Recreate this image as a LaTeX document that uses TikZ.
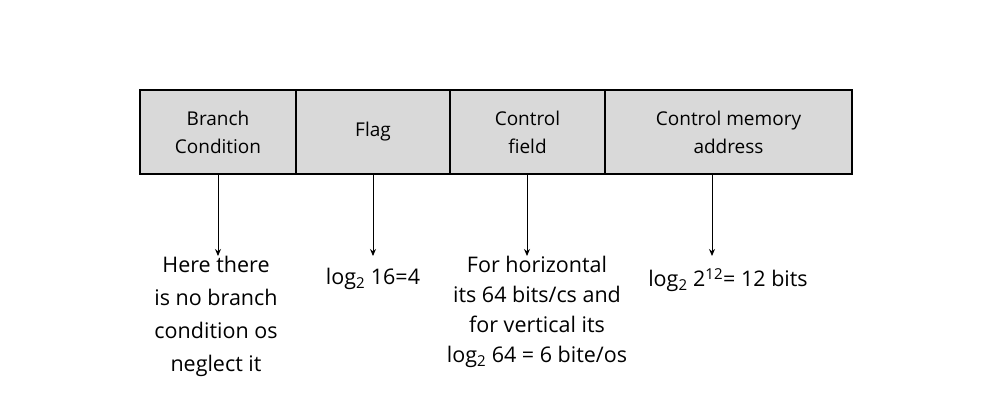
\documentclass[tikz,border=0pt]{standalone}
\usepackage{fontspec}
\setmainfont{Open Sans}
\usetikzlibrary{arrows.meta}
\begin{document}
\begin{tikzpicture}[x=1pt,y=-1pt,
  cell/.style={draw=black,fill=gray!30,line width=1.2pt,minimum height=84pt,align=center,font=\fontsize{19}{28}\selectfont,inner sep=0pt},
  desc/.style={align=center,font=\fontsize{21.5}{33}\selectfont,anchor=north},
  arr/.style={-{Stealth[length=7pt,width=6pt]},line width=1pt}]
\useasboundingbox (0,0) rectangle (1000,400);
\node[cell,minimum width=156pt] (a) at (218,132) {Branch\\Condition};
\node[cell,minimum width=154pt] (b) at (373,132) {Flag};
\node[cell,minimum width=155pt] (c) at (527.5,132) {Control\\field};
\node[cell,minimum width=247pt] (d) at (728.5,132) {Control memory\\address};
\coordinate (ea) at (218,256);
\coordinate (eb) at (373,256);
\coordinate (ec) at (527,256);
\coordinate (ed) at (712,256);
\draw[arr] (a.south) -- (ea);
\draw[arr] (b.south) -- (eb);
\draw[arr] (c.south -| ec) -- (ec);
\draw[arr] (d.south -| ed) -- (ed);
\node[desc] (ta) at (216,253) {Here there\\is no branch\\condition os\\neglect it};
\node[desc] (tb) at (373,265) {log\textsubscript{2} 16=4};
\node[desc,font=\fontsize{21.5}{30}\selectfont] (tc) at (537,253) {For horizontal\\its 64 bits/cs and\\for vertical its\\log\textsubscript{2} 64 = 6 bite/os};
\node[desc] (td) at (728,265) {log\textsubscript{2} 2\textsuperscript{12}= 12 bits};
\end{tikzpicture}
\end{document}
